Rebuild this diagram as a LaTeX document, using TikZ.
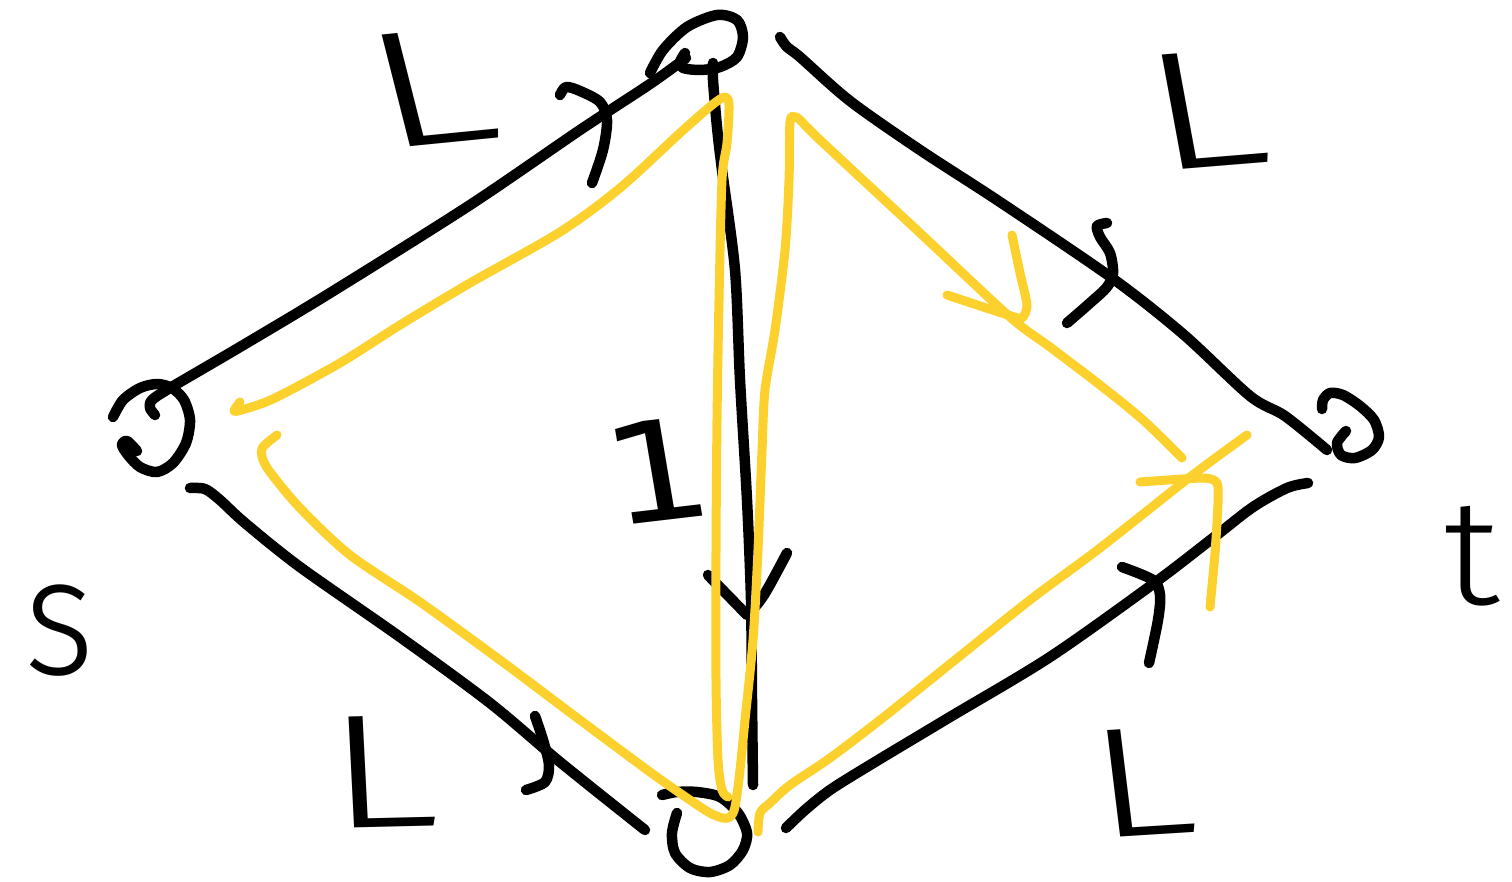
\documentclass[tikz,border=0pt]{standalone}
\usepackage{fontspec}
\newfontfamily\hand{Fira Sans Light}
\newfontfamily\handone{DejaVu Sans}
\definecolor{hl}{RGB}{252,209,45}
\begin{document}
\begin{tikzpicture}[x=1pt,y=-1pt,
  ink/.style={line width=10.5pt, line cap=round, line join=round},
  blk/.style={ink, draw=black},
  ylw/.style={ink, line width=9pt, draw=hl},
  sm/.style={smooth, tension=0.5},
  lab/.style={inner sep=0pt, anchor=center, text=black}]
\fill[white] (0,0) rectangle (1512,881);
\useasboundingbox (0,0) rectangle (1512,881);

% vertex anchor points
\coordinate (s1) at (155,415);
\coordinate (s2) at (190,488);
\coordinate (a1) at (686,58);
\coordinate (a2) at (713,63);
\coordinate (a3) at (780,37);
\coordinate (b1) at (645,830);
\coordinate (b2) at (753,785);
\coordinate (b3) at (786,828);
\coordinate (t1) at (1327,450);
\coordinate (t2) at (1308,483);

% ---------- black vertices (hand drawn loops)
\draw[blk] plot[sm] coordinates {(113,417) (123,400) (140,388) (157,384) (172,388) (184,400) (190,420) (186,443) (173,463) (157,472) (140,467) (128,455) (122,445) (127,441) (137,451)};
\draw[blk] plot[sm] coordinates {(650,73) (663,50) (687,27) (717,15) (737,20) (743,37) (737,57) (720,67) (700,70) (683,68) (680,62) (685,53)};
\draw[blk] plot[sm] coordinates {(677,813) (672,833) (675,853) (690,868) (710,872) (730,865) (743,850) (747,833) (738,813) (720,797) (697,792) (677,792) (662,795)};
\draw[blk] plot[sm] coordinates {(1322,409) (1323,400) (1330,393) (1343,395) (1360,406) (1374,420) (1379,437) (1372,450) (1355,458) (1341,455) (1337,443) (1346,431)};

% ---------- black edges
\draw[blk] plot[sm] coordinates {(s1) (150,408) (152,400) (170,388) (240,347) (330,293) (470,205) (580,130) (650,84) (a1)};
\draw[blk] plot[sm] coordinates {(a2) (713,80) (717,127) (722,170) (735,270) (740,380) (747,500) (751,600) (752,700) (b2)};
\draw[blk] plot[sm] coordinates {(a3) (787,47) (800,57) (850,101) (920,150) (1000,202) (1112,278) (1183,334) (1250,396) (1285,416) (t1)};
\draw[blk] plot[sm] coordinates {(s2) (205,489) (220,500) (245,523) (300,567) (400,637) (490,703) (560,762) (b1)};
\draw[blk] plot[sm] coordinates {(b3) (805,810) (830,790) (870,765) (950,717) (1050,657) (1153,584) (1213,538) (1253,507) (1287,488) (t2)};

% ---------- black arrowheads
\draw[blk] plot[sm] coordinates {(560,95) (566,87) (580,91) (600,102) (607,120) (603,150) (592,183)};
\draw[blk] (708,575) -- (747,615) .. controls (762,600) .. (787,553);
\draw[blk] plot[sm] coordinates {(1107,223) (1097,226) (1100,237) (1110,253) (1113,273) (1107,287) (1090,303) (1067,323)};
\draw[blk] plot[sm] coordinates {(535,716) (543,740) (549,765) (545,782) (526,790)};
\draw[blk] plot[sm] coordinates {(1122,567) (1153,580) (1160,595) (1158,620) (1149,663)};

% ---------- labels
\node[lab, font=\hand\fontsize{165}{165}\selectfont, xscale=1.6, rotate=9] (l1) at (430,88) {L};
\node[lab, font=\hand\fontsize{168}{168}\selectfont, xscale=1.5, rotate=7] (l2) at (1205,110) {L};
\node[lab, font=\hand\fontsize{162}{162}\selectfont, xscale=1.45, rotate=2] (l3) at (382,772) {L};
\node[lab, font=\hand\fontsize{156}{156}\selectfont, xscale=1.4, rotate=5] (l4) at (1142,782) {L};
\node[lab, font=\handone\fontsize{138}{138}\selectfont, xscale=1.2, rotate=8] (one) at (657,471) {1};
\node[lab, font=\hand\fontsize{150}{150}\selectfont, xscale=1.1] (tl) at (1472,556) {t};
\node[lab, font=\hand\fontsize{168}{168}\selectfont, xscale=0.9] (sl) at (60,631) {s};

% ---------- yellow paths
\draw[ylw] plot[sm] coordinates {(240,402) (234,411) (245,409) (275,398) (340,363) (400,325) (470,283) (560,232) (620,188) (680,133) (712,105) (725,97) (729,105) (727,143) (722,180) (719,300) (717,420) (716,550) (716,680) (718,760) (722,790) (728,797)};
\draw[ylw] plot[sm] coordinates {(1182,458) (1143,420) (1100,385) (1050,347) (1010,317) (920,233) (820,140) (800,120) (795,117) (790,122) (789,180) (785,250) (775,330) (765,390) (762,450) (758,550) (753,640) (745,720) (740,770) (735,807) (730,817) (723,818) (710,813) (690,800) (650,772) (580,720) (500,660) (420,602) (350,555) (300,508) (270,472) (262,457) (263,447) (277,435)};
\draw[ylw] plot[sm] coordinates {(758,832) (760,813) (770,803) (790,785) (830,758) (880,720) (950,664) (1030,600) (1100,548) (1190,477) (1247,435)};
\draw[ylw] plot[smooth, tension=0.4] coordinates {(1012,235) (1020,273) (1027,305) (1022,318) (1008,315) (947,295)};
\draw[ylw] plot[smooth, tension=0.4] coordinates {(1140,482) (1203,478) (1217,483) (1218,503) (1215,553) (1210,607)};
\end{tikzpicture}
\end{document}
